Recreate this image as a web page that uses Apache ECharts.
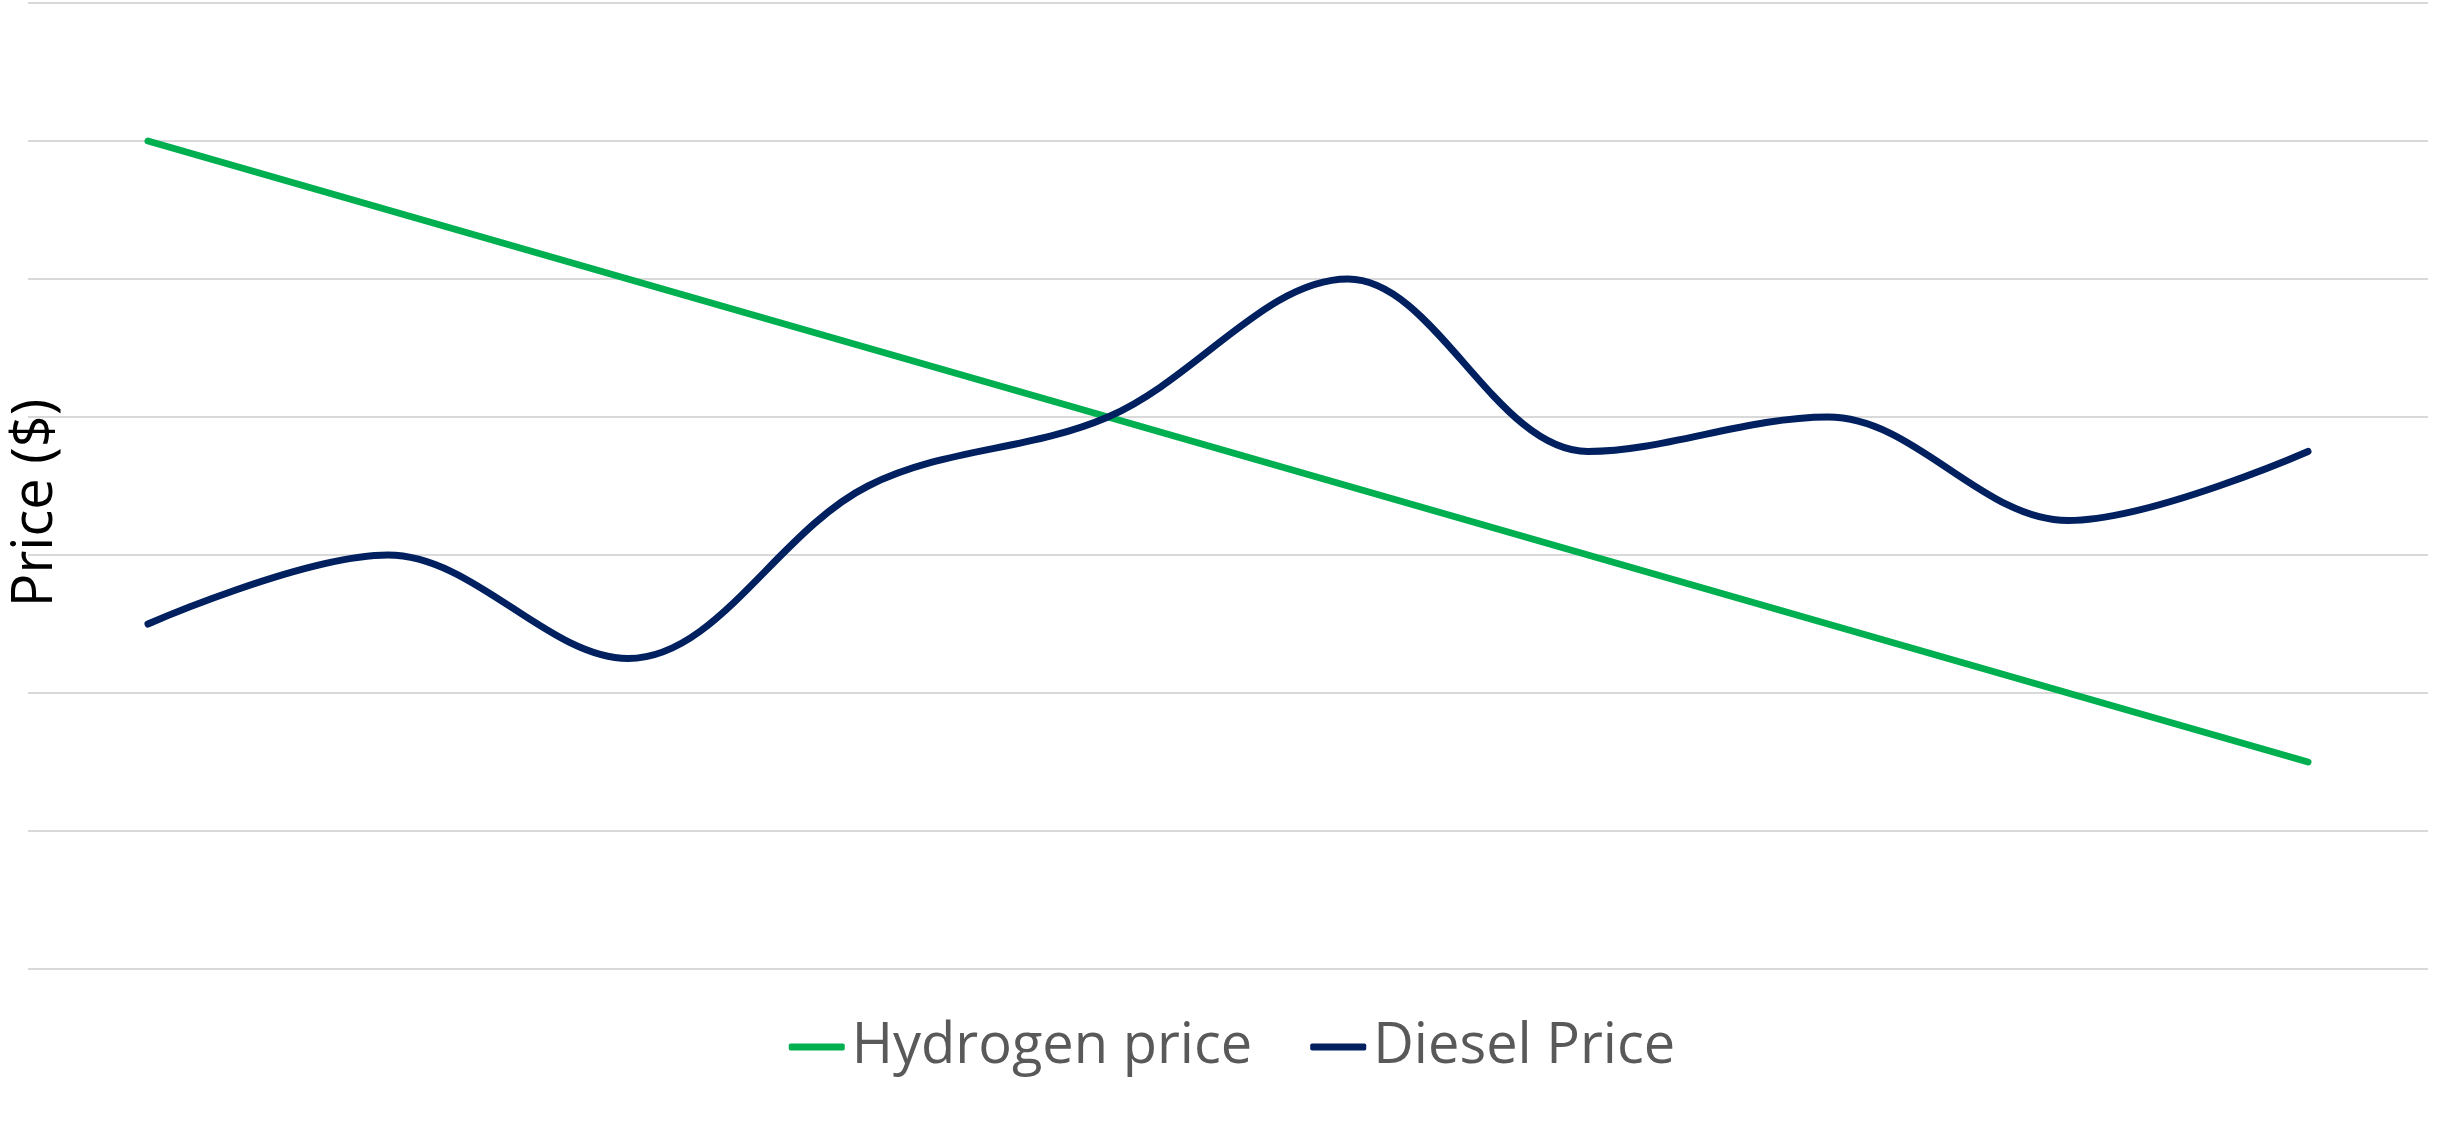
<!DOCTYPE html>
<html>
<head>
<meta charset="utf-8">
<script src="https://cdn.jsdelivr.net/npm/echarts@6/dist/echarts.min.js"></script>
<style>
  html, body { margin: 0; padding: 0; background: #fff; }
  #price { width: 2464px; height: 1138px; }
</style>
</head>
<body>
<div id="price"></div>
<script>
// ten unlabeled periods
const periods = ['1', '2', '3', '4', '5', '6', '7', '8', '9', '10'];
const hydrogenPrice = [6, 5.5, 5, 4.5, 4, 3.5, 3, 2.5, 2, 1.5];
const dieselPrice = [2.5, 3.0, 2.25, 3.5, 4.0, 5.0, 3.75, 4.0, 3.25, 3.75];

const priceChart = echarts.init(document.getElementById('price'));
priceChart.setOption({
  animation: false,
  textStyle: {
    fontFamily: 'Open Sans'
  },
  grid: {
    left: 28,
    right: 36,
    top: 3,
    bottom: 169,
    outerBoundsMode: 'none'
  },
  legend: {
    bottom: 58,
    left: 'center',
    icon: 'roundRect',
    itemWidth: 56,
    itemHeight: 7,
    itemGap: 58,
    textStyle: {
      fontSize: 56,
      color: '#595959',
      padding: [0, 0, 0, 2]
    },
    data: ['Hydrogen price', 'Diesel Price']
  },
  xAxis: {
    type: 'category',
    boundaryGap: true,
    data: periods,
    axisLine: { show: false },
    axisTick: { show: false },
    axisLabel: { show: false }
  },
  yAxis: {
    type: 'value',
    min: 0,
    max: 7,
    interval: 1,
    name: 'Price ($)',
    nameLocation: 'middle',
    nameRotate: 90,
    nameGap: -36,
    nameTextStyle: {
      fontSize: 56,
      color: '#000000',
      padding: [0, 34, 0, 0]
    },
    axisLine: { show: false },
    axisTick: { show: false },
    axisLabel: { show: false },
    splitLine: {
      lineStyle: { color: '#d9d9d9', width: 2 }
    }
  },
  series: [
    {
      name: 'Hydrogen price',
      type: 'line',
      symbol: 'none',
      color: '#00b050',
      lineStyle: { width: 7, cap: 'round' },
      data: hydrogenPrice
    },
    {
      name: 'Diesel Price',
      type: 'line',
      symbol: 'none',
      smooth: 0.35,
      color: '#002060',
      lineStyle: { width: 7, cap: 'round' },
      data: dieselPrice
    }
  ]
});
</script>
</body>
</html>
